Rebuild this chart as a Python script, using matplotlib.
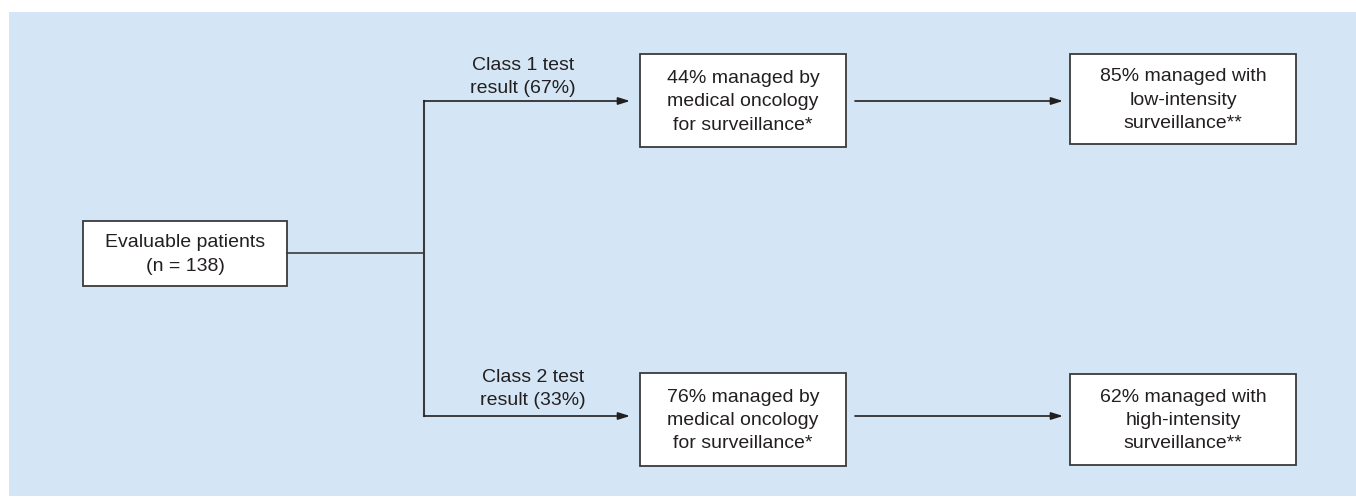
import matplotlib.pyplot as plt
from matplotlib.patches import Rectangle

# pixel layout of the flow chart (image coords, y grows downwards)
BG = "#d4e6f5"
INK = "#231f20"
EDGE = "#3a3a3c"

box_texts = [
    "Evaluable patients\n(n = 138)",
    "44% managed by\nmedical oncology\nfor surveillance*",
    "85% managed with\nlow-intensity\nsurveillance**",
    "76% managed by\nmedical oncology\nfor surveillance*",
    "62% managed with\nhigh-intensity\nsurveillance**",
]
box_x0 = [83, 640, 1070, 640, 1070]
box_x1 = [287, 846, 1296, 846, 1296]
box_y0 = [221, 54, 54, 373, 374]
box_y1 = [286, 147, 144, 466, 465]

branch_labels = ["Class 1 test\nresult (67%)", "Class 2 test\nresult (33%)"]
branch_label_x = [523, 533]
branch_label_y = [77, 389]
branch_y = [101, 416]
split_x = 424

plt.rcParams["font.family"] = ["Liberation Sans", "DejaVu Sans"]

fig = plt.figure(figsize=(13.56, 5.03), dpi=100)
ax = fig.add_axes([0, 0, 1, 1])
ax.set_xlim(0, 1356)
ax.set_ylim(503, 0)
ax.axis("off")

ax.add_patch(Rectangle((9, 12), 1356 - 9, 484, facecolor=BG, edgecolor="none"))

for t, x0, x1, y0, y1 in zip(box_texts, box_x0, box_x1, box_y0, box_y1):
    ax.add_patch(Rectangle((x0, y0), x1 - x0, y1 - y0, facecolor="white",
                           edgecolor=EDGE, linewidth=1.3, zorder=2))
    ax.text((x0 + x1) / 2, (y0 + y1) / 2 + 1, t, ha="center", va="center",
            fontsize=14, color=INK, linespacing=1.5, zorder=3)

arrow_kw = dict(arrowstyle="-|>,head_length=0.7,head_width=0.22",
                color=INK, linewidth=1.2, shrinkA=0, shrinkB=0)

# stem from the first box to the split line
ax.plot([box_x1[0], split_x], [253, 253], color=EDGE, linewidth=1.2)
ax.plot([split_x, split_x], [branch_y[0], branch_y[1]], color=EDGE,
        linewidth=1.5, solid_capstyle="projecting")

for i, y in enumerate(branch_y):
    ax.annotate("", xy=(box_x0[1 + 2 * i] - 10, y), xytext=(split_x, y),
                arrowprops=arrow_kw)
    ax.text(branch_label_x[i], branch_label_y[i], branch_labels[i],
            ha="center", va="center", fontsize=14, color=INK,
            linespacing=1.4)
    ax.annotate("", xy=(box_x0[2 + 2 * i] - 7, y), xytext=(box_x1[1 + 2 * i] + 9, y),
                arrowprops=arrow_kw)

fig.savefig("out.png", dpi=100, facecolor="white")
